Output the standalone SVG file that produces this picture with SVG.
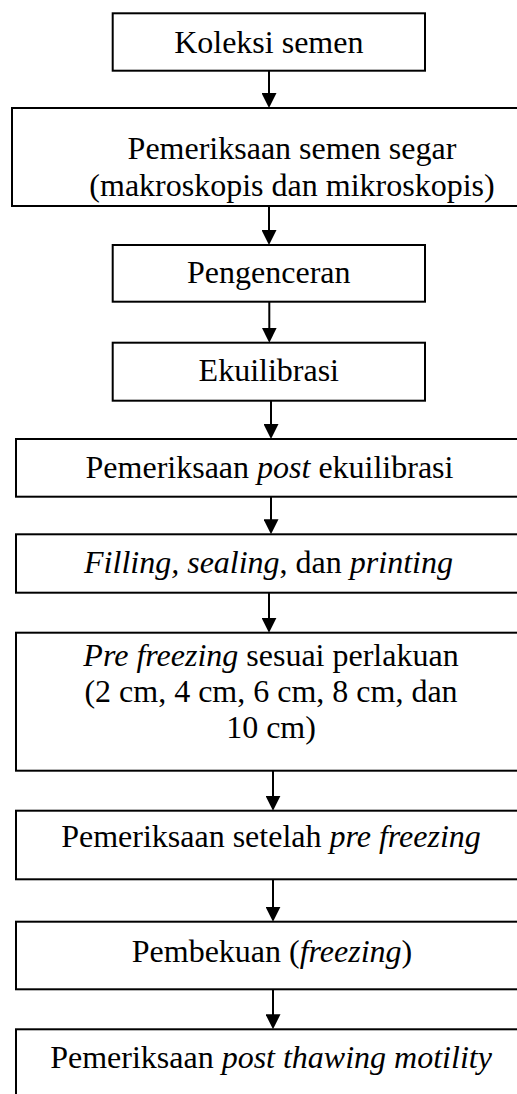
<svg xmlns="http://www.w3.org/2000/svg" width="517" height="1094" viewBox="0 0 517 1094">
  <style>
    .box { fill: #ffffff; stroke: #000000; stroke-width: 2; }
    .lbl { font-family: 'Liberation Serif', 'Times New Roman', serif; font-size: 32px; fill: #000000; text-anchor: middle; }
    .it { font-style: italic; }
    .con { stroke: #000000; stroke-width: 2; fill: none; marker-end: url(#ah); }
  </style>
  <defs>
    <marker id="ah" viewBox="0 0 15 15" refX="1" refY="7.5" markerWidth="15" markerHeight="15" orient="auto" markerUnits="userSpaceOnUse">
      <path d="M0,0 L15,7.5 L0,15 z" fill="#000000"/>
    </marker>
  </defs>
  <rect width="517" height="1094" fill="#ffffff"/>

  <g id="connectors">
    <line class="con" x1="269" y1="70.7" x2="269" y2="94"/>
    <line class="con" x1="269" y1="206" x2="269" y2="231"/>
    <line class="con" x1="269.3" y1="301.7" x2="269.3" y2="328.7"/>
    <line class="con" x1="271" y1="400.7" x2="271" y2="425"/>
    <line class="con" x1="271" y1="496.7" x2="271" y2="520.3"/>
    <line class="con" x1="269" y1="592.7" x2="269" y2="618.7"/>
    <line class="con" x1="273" y1="770.7" x2="273" y2="796.7"/>
    <line class="con" x1="273" y1="879.3" x2="273" y2="907.7"/>
    <line class="con" x1="273" y1="989.3" x2="273" y2="1015.3"/>
  </g>

  <g id="n1">
    <rect class="box" x="112.7" y="13.3" width="312.3" height="57.4"/>
    <text class="lbl" x="268.8" y="53.3">Koleksi semen</text>
  </g>
  <g id="n2">
    <rect class="box" x="12" y="108" width="570" height="98"/>
    <text class="lbl" x="292" y="159">Pemeriksaan semen segar</text>
    <text class="lbl" x="292" y="196">(makroskopis dan mikroskopis)</text>
  </g>
  <g id="n3">
    <rect class="box" x="112.7" y="245" width="312.3" height="56.7"/>
    <text class="lbl" x="268.8" y="283.3">Pengenceran</text>
  </g>
  <g id="n4">
    <rect class="box" x="112.7" y="342.7" width="312.3" height="58"/>
    <text class="lbl" x="268.8" y="381">Ekuilibrasi</text>
  </g>
  <g id="n5">
    <rect class="box" x="16" y="439" width="520" height="57.7"/>
    <text class="lbl" x="269.5" y="478">Pemeriksaan <tspan class="it">post</tspan> ekuilibrasi</text>
  </g>
  <g id="n6">
    <rect class="box" x="16" y="534.3" width="520" height="58.4"/>
    <text class="lbl" x="268.5" y="573"><tspan class="it">Filling, sealing</tspan>, dan <tspan class="it">printing</tspan></text>
  </g>
  <g id="n7">
    <rect class="box" x="16" y="632.7" width="520" height="138"/>
    <text class="lbl" x="271" y="666"><tspan class="it">Pre freezing</tspan> sesuai perlakuan</text>
    <text class="lbl" x="271" y="702">(2 cm, 4 cm, 6 cm, 8 cm, dan</text>
    <text class="lbl" x="271" y="738.3">10 cm)</text>
  </g>
  <g id="n8">
    <rect class="box" x="16" y="810.7" width="520" height="68.6"/>
    <text class="lbl" x="271" y="847">Pemeriksaan setelah <tspan class="it">pre freezing</tspan></text>
  </g>
  <g id="n9">
    <rect class="box" x="16" y="921.7" width="520" height="67.6"/>
    <text class="lbl" x="272" y="961.7">Pembekuan (<tspan class="it">freezing</tspan>)</text>
  </g>
  <g id="n10">
    <rect class="box" x="16" y="1029.3" width="520" height="80"/>
    <text class="lbl" x="271" y="1068.3">Pemeriksaan <tspan class="it">post thawing motility</tspan></text>
  </g>
</svg>
